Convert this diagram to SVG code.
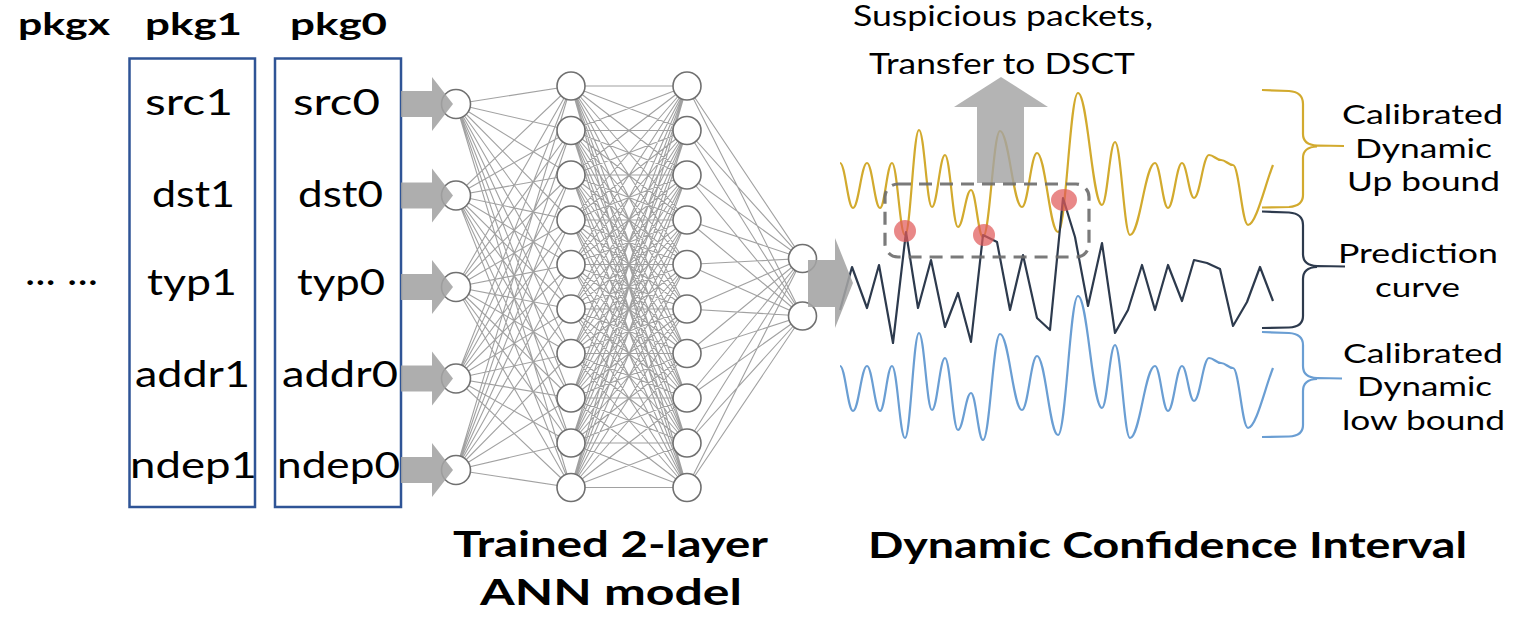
<svg xmlns="http://www.w3.org/2000/svg" width="1521" height="625" viewBox="0 0 1521 625">
  <style>
    .txt { font-family: Lato, "Open Sans", "Liberation Sans", sans-serif; fill: #000; }
    .hdr { font-weight: bold; font-size: 31px; }
    .fld { font-size: 37px; }
    .side { font-size: 27.5px; }
    .top { font-size: 29px; }
    .cap { font-weight: bold; font-size: 37px; }
    .pkg { fill: none; stroke: #2F5496; stroke-width: 2.5; }
    .neuron { fill: #fff; stroke: #707070; stroke-width: 1.6; }
    .weights { fill: none; stroke: #8c8c8c; stroke-width: 1.1; stroke-opacity: 0.82; }
    .flow { fill: #a3a3a3; fill-opacity: 0.88; }
    .up { stroke: #D2AA2E; }
    .pred { stroke: #2D3A4D; }
    .low { stroke: #6A9ED3; }
    .curve { fill: none; stroke-width: 2.2; stroke-linejoin: round; }
    .brace { fill: none; stroke-width: 2.2; }
    .hit { fill: #E05A5A; fill-opacity: 0.72; }
  </style>
  <defs>
    <!-- input feed arrow, tip at the origin -->
    <path id="feed" d="M-52 -13 L-21 -13 L-21 -27 L0 0 L-21 27 L-21 13 L-52 13 Z"/>
    <!-- one calibrated bound curve -->
    <path id="bound" d="M840 163 C845.2 163 847.8 208 853 208 C858.6 208 861.4 163 867 163 C872.2 163 874.8 208 880 208 C884.8 208 887.2 163 892 163 C897.2 163 899.8 235 905 235 C910.6 235 913.4 130 919 130 C924.2 130 926.8 207 932 207 C937.2 207 939.8 155 945 155 C950.2 155 952.8 227 958 227 C963.2 227 965.8 190 971 190 C975.8 190 978.2 237 983 237 C989.8 237 993.2 131 1000 131 C1008.8 131 1013.2 207 1022 207 C1028 207 1031 153 1037 153 C1045.4 153 1049.6 232 1058 232 C1066 232 1070 93 1078 93 C1087.6 93 1092.4 205 1102 205 C1107.2 205 1109.8 142 1115 142 C1121 142 1124 235 1130 235 C1140 235 1145 163 1155 163 C1160.2 163 1162.8 208 1168 208 C1173.6 208 1176.4 163 1182 163 C1186.8 163 1189.2 198 1194 198 C1200 198 1203 155 1209 155 C1213.8 155 1216.2 160 1221 160 C1225.8 160 1228.2 165 1233 165 C1239 165 1242 225 1248 225 C1256 225 1265 185 1273 165"/>
  </defs>

  <!-- packet headers -->
  <g id="headers" class="txt hdr">
    <text x="18" y="35" textLength="92" lengthAdjust="spacingAndGlyphs">pkgx</text>
    <text x="145" y="35" textLength="97" lengthAdjust="spacingAndGlyphs">pkg1</text>
    <text x="290" y="35" textLength="97" lengthAdjust="spacingAndGlyphs">pkg0</text>
  </g>
  <text id="more" class="txt fld" x="25" y="285" textLength="73" lengthAdjust="spacingAndGlyphs">... ...</text>

  <!-- packet 1 -->
  <g id="pkg1">
    <rect class="pkg" x="129.5" y="58.5" width="125.5" height="448.5"/>
    <g class="txt fld">
      <text x="145" y="115" textLength="88" lengthAdjust="spacingAndGlyphs">src1</text>
      <text x="152" y="207" textLength="83" lengthAdjust="spacingAndGlyphs">dst1</text>
      <text x="147" y="295" textLength="90" lengthAdjust="spacingAndGlyphs">typ1</text>
      <text x="135" y="387" textLength="115" lengthAdjust="spacingAndGlyphs">addr1</text>
      <text x="130" y="478" textLength="127" lengthAdjust="spacingAndGlyphs">ndep1</text>
    </g>
  </g>

  <!-- packet 0 -->
  <g id="pkg0">
    <rect class="pkg" x="275" y="58.5" width="126" height="448.5"/>
    <g class="txt fld">
      <text x="293" y="115" textLength="87" lengthAdjust="spacingAndGlyphs">src0</text>
      <text x="298" y="207" textLength="85" lengthAdjust="spacingAndGlyphs">dst0</text>
      <text x="297" y="295" textLength="88" lengthAdjust="spacingAndGlyphs">typ0</text>
      <text x="282" y="387" textLength="116" lengthAdjust="spacingAndGlyphs">addr0</text>
      <text x="277" y="478" textLength="123" lengthAdjust="spacingAndGlyphs">ndep0</text>
    </g>
  </g>

  <!-- weights between layers -->
  <g id="connectors">
    <path class="weights" d="M456 104L571 86M456 104L571 130.5M456 104L571 175M456 104L571 220M456 104L571 264.5M456 104L571 309M456 104L571 353.5M456 104L571 398M456 104L571 443M456 104L571 487.5
      M456 195.5L571 86M456 195.5L571 130.5M456 195.5L571 175M456 195.5L571 220M456 195.5L571 264.5M456 195.5L571 309M456 195.5L571 353.5M456 195.5L571 398M456 195.5L571 443M456 195.5L571 487.5
      M456 287L571 86M456 287L571 130.5M456 287L571 175M456 287L571 220M456 287L571 264.5M456 287L571 309M456 287L571 353.5M456 287L571 398M456 287L571 443M456 287L571 487.5
      M456 378.5L571 86M456 378.5L571 130.5M456 378.5L571 175M456 378.5L571 220M456 378.5L571 264.5M456 378.5L571 309M456 378.5L571 353.5M456 378.5L571 398M456 378.5L571 443M456 378.5L571 487.5
      M456 470L571 86M456 470L571 130.5M456 470L571 175M456 470L571 220M456 470L571 264.5M456 470L571 309M456 470L571 353.5M456 470L571 398M456 470L571 443M456 470L571 487.5"/>
    <path class="weights" d="M571 86L687 86M571 86L687 130.5M571 86L687 175M571 86L687 220M571 86L687 264.5M571 86L687 309M571 86L687 353.5M571 86L687 398M571 86L687 443M571 86L687 487.5
      M571 130.5L687 86M571 130.5L687 130.5M571 130.5L687 175M571 130.5L687 220M571 130.5L687 264.5M571 130.5L687 309M571 130.5L687 353.5M571 130.5L687 398M571 130.5L687 443M571 130.5L687 487.5
      M571 175L687 86M571 175L687 130.5M571 175L687 175M571 175L687 220M571 175L687 264.5M571 175L687 309M571 175L687 353.5M571 175L687 398M571 175L687 443M571 175L687 487.5
      M571 220L687 86M571 220L687 130.5M571 220L687 175M571 220L687 220M571 220L687 264.5M571 220L687 309M571 220L687 353.5M571 220L687 398M571 220L687 443M571 220L687 487.5
      M571 264.5L687 86M571 264.5L687 130.5M571 264.5L687 175M571 264.5L687 220M571 264.5L687 264.5M571 264.5L687 309M571 264.5L687 353.5M571 264.5L687 398M571 264.5L687 443M571 264.5L687 487.5
      M571 309L687 86M571 309L687 130.5M571 309L687 175M571 309L687 220M571 309L687 264.5M571 309L687 309M571 309L687 353.5M571 309L687 398M571 309L687 443M571 309L687 487.5
      M571 353.5L687 86M571 353.5L687 130.5M571 353.5L687 175M571 353.5L687 220M571 353.5L687 264.5M571 353.5L687 309M571 353.5L687 353.5M571 353.5L687 398M571 353.5L687 443M571 353.5L687 487.5
      M571 398L687 86M571 398L687 130.5M571 398L687 175M571 398L687 220M571 398L687 264.5M571 398L687 309M571 398L687 353.5M571 398L687 398M571 398L687 443M571 398L687 487.5
      M571 443L687 86M571 443L687 130.5M571 443L687 175M571 443L687 220M571 443L687 264.5M571 443L687 309M571 443L687 353.5M571 443L687 398M571 443L687 443M571 443L687 487.5
      M571 487.5L687 86M571 487.5L687 130.5M571 487.5L687 175M571 487.5L687 220M571 487.5L687 264.5M571 487.5L687 309M571 487.5L687 353.5M571 487.5L687 398M571 487.5L687 443M571 487.5L687 487.5"/>
    <path class="weights" d="M687 86L802.5 258.5M687 130.5L802.5 258.5M687 175L802.5 258.5M687 220L802.5 258.5M687 264.5L802.5 258.5M687 309L802.5 258.5M687 353.5L802.5 258.5M687 398L802.5 258.5M687 443L802.5 258.5M687 487.5L802.5 258.5
      M687 86L802.5 316M687 130.5L802.5 316M687 175L802.5 316M687 220L802.5 316M687 264.5L802.5 316M687 309L802.5 316M687 353.5L802.5 316M687 398L802.5 316M687 443L802.5 316M687 487.5L802.5 316"/>
  </g>

  <!-- input layer -->
  <g id="in1"><circle class="neuron" cx="456" cy="104" r="14.5"/></g>
  <g id="in2"><circle class="neuron" cx="456" cy="195.5" r="14.5"/></g>
  <g id="in3"><circle class="neuron" cx="456" cy="287" r="14.5"/></g>
  <g id="in4"><circle class="neuron" cx="456" cy="378.5" r="14.5"/></g>
  <g id="in5"><circle class="neuron" cx="456" cy="470" r="14.5"/></g>

  <!-- hidden layer 1 -->
  <g id="h1n1"><circle class="neuron" cx="571" cy="86" r="14"/></g>
  <g id="h1n2"><circle class="neuron" cx="571" cy="130.5" r="14"/></g>
  <g id="h1n3"><circle class="neuron" cx="571" cy="175" r="14"/></g>
  <g id="h1n4"><circle class="neuron" cx="571" cy="220" r="14"/></g>
  <g id="h1n5"><circle class="neuron" cx="571" cy="264.5" r="14"/></g>
  <g id="h1n6"><circle class="neuron" cx="571" cy="309" r="14"/></g>
  <g id="h1n7"><circle class="neuron" cx="571" cy="353.5" r="14"/></g>
  <g id="h1n8"><circle class="neuron" cx="571" cy="398" r="14"/></g>
  <g id="h1n9"><circle class="neuron" cx="571" cy="443" r="14"/></g>
  <g id="h1n10"><circle class="neuron" cx="571" cy="487.5" r="14"/></g>

  <!-- hidden layer 2 -->
  <g id="h2n1"><circle class="neuron" cx="687" cy="86" r="14"/></g>
  <g id="h2n2"><circle class="neuron" cx="687" cy="130.5" r="14"/></g>
  <g id="h2n3"><circle class="neuron" cx="687" cy="175" r="14"/></g>
  <g id="h2n4"><circle class="neuron" cx="687" cy="220" r="14"/></g>
  <g id="h2n5"><circle class="neuron" cx="687" cy="264.5" r="14"/></g>
  <g id="h2n6"><circle class="neuron" cx="687" cy="309" r="14"/></g>
  <g id="h2n7"><circle class="neuron" cx="687" cy="353.5" r="14"/></g>
  <g id="h2n8"><circle class="neuron" cx="687" cy="398" r="14"/></g>
  <g id="h2n9"><circle class="neuron" cx="687" cy="443" r="14"/></g>
  <g id="h2n10"><circle class="neuron" cx="687" cy="487.5" r="14"/></g>

  <!-- output layer -->
  <g id="out1"><circle class="neuron" cx="802.5" cy="258.5" r="14"/></g>
  <g id="out2"><circle class="neuron" cx="802.5" cy="316" r="14"/></g>

  <!-- confidence interval curves -->
  <g id="interval">
    <use href="#bound" class="curve up"/>
    <use href="#bound" class="curve low" transform="translate(0,203)"/>
    <polyline class="curve pred" stroke-width="2.6" points="840,310 852,267 867,308 879,265 893,343 906,232 918,308 931,260 945,327 958,293 971,342 983,235 997,242 1010,310 1023,255 1037,318 1050,330 1063,198 1075,237 1088,306 1102,243 1115,333 1128,310 1142,265 1155,310 1168,265 1182,301 1194,260 1207,263 1220,269 1233,326 1247,302 1260,267 1273,301"/>
  </g>

  <!-- feed arrows -->
  <g id="feeds" class="flow">
    <use href="#feed" x="453" y="104"/>
    <use href="#feed" x="453" y="195.5"/>
    <use href="#feed" x="453" y="287"/>
    <use href="#feed" x="453" y="378.5"/>
    <use href="#feed" x="453" y="470"/>
    <path d="M808 260 L835 260 L835 238 L853 283 L835 328 L835 307 L808 307 Z"/>
    <path d="M977 183 L977 107 L954 107 L1001 77 L1048 107 L1024 107 L1024 183 Z" fill-opacity="0.82"/>
  </g>

  <!-- suspicious window -->
  <g id="window">
    <rect x="885" y="184" width="204" height="73" rx="13" fill="none" stroke="#6c6c6c" stroke-opacity="0.9" stroke-width="3.2" stroke-dasharray="13 8"/>
    <ellipse class="hit" cx="905" cy="231" rx="11" ry="11"/>
    <ellipse class="hit" cx="984" cy="235" rx="11" ry="11"/>
    <ellipse class="hit" cx="1064" cy="200" rx="13" ry="11"/>
  </g>

  <!-- braces -->
  <g id="braces">
    <path class="brace up" d="M1262 90 L1289 91 Q1303 92 1303 104 L1303 134 Q1303 145 1317 145.5 L1344 146 M1317 146.5 Q1303 147 1303 158 L1303 195 Q1303 206 1289 207 L1262 207.5"/>
    <path class="brace pred" d="M1262 211.5 L1289 212.5 Q1303 213.5 1303 225 L1303 254 Q1303 265.5 1317 266 L1345 266.5 M1317 267 Q1303 267.5 1303 279 L1303 316 Q1303 327 1289 327.5 L1262 328"/>
    <path class="brace low" d="M1262 332 L1289 333 Q1303 334 1303 345 L1303 366 Q1303 377.5 1317 378 L1342 378.5 M1317 379 Q1303 379.5 1303 391 L1303 425 Q1303 436 1289 436.5 L1262 437"/>
  </g>

  <!-- side labels -->
  <g id="side-labels" class="txt side">
    <text x="1342" y="124" textLength="161" lengthAdjust="spacingAndGlyphs">Calibrated</text>
    <text x="1355" y="157.5" textLength="137" lengthAdjust="spacingAndGlyphs">Dynamic</text>
    <text x="1347" y="191" textLength="153" lengthAdjust="spacingAndGlyphs">Up bound</text>
    <text x="1338" y="262.5" textLength="160" lengthAdjust="spacingAndGlyphs">Prediction</text>
    <text x="1375" y="296.5" textLength="85" lengthAdjust="spacingAndGlyphs">curve</text>
    <text x="1343" y="362.5" textLength="160" lengthAdjust="spacingAndGlyphs">Calibrated</text>
    <text x="1357" y="396" textLength="135" lengthAdjust="spacingAndGlyphs">Dynamic</text>
    <text x="1342" y="429.5" textLength="163" lengthAdjust="spacingAndGlyphs">low bound</text>
  </g>

  <!-- escalation note -->
  <g id="note" class="txt top">
    <text x="853" y="26" textLength="300" lengthAdjust="spacingAndGlyphs">Suspicious packets,</text>
    <text x="869" y="74" textLength="266" lengthAdjust="spacingAndGlyphs">Transfer to DSCT</text>
  </g>

  <!-- captions -->
  <g id="captions" class="txt cap">
    <text x="453" y="557" textLength="315" lengthAdjust="spacingAndGlyphs">Trained 2-layer</text>
    <text x="480" y="605" textLength="262" lengthAdjust="spacingAndGlyphs">ANN model</text>
    <text x="868" y="558" textLength="599" lengthAdjust="spacingAndGlyphs">Dynamic Confidence Interval</text>
  </g>
</svg>
